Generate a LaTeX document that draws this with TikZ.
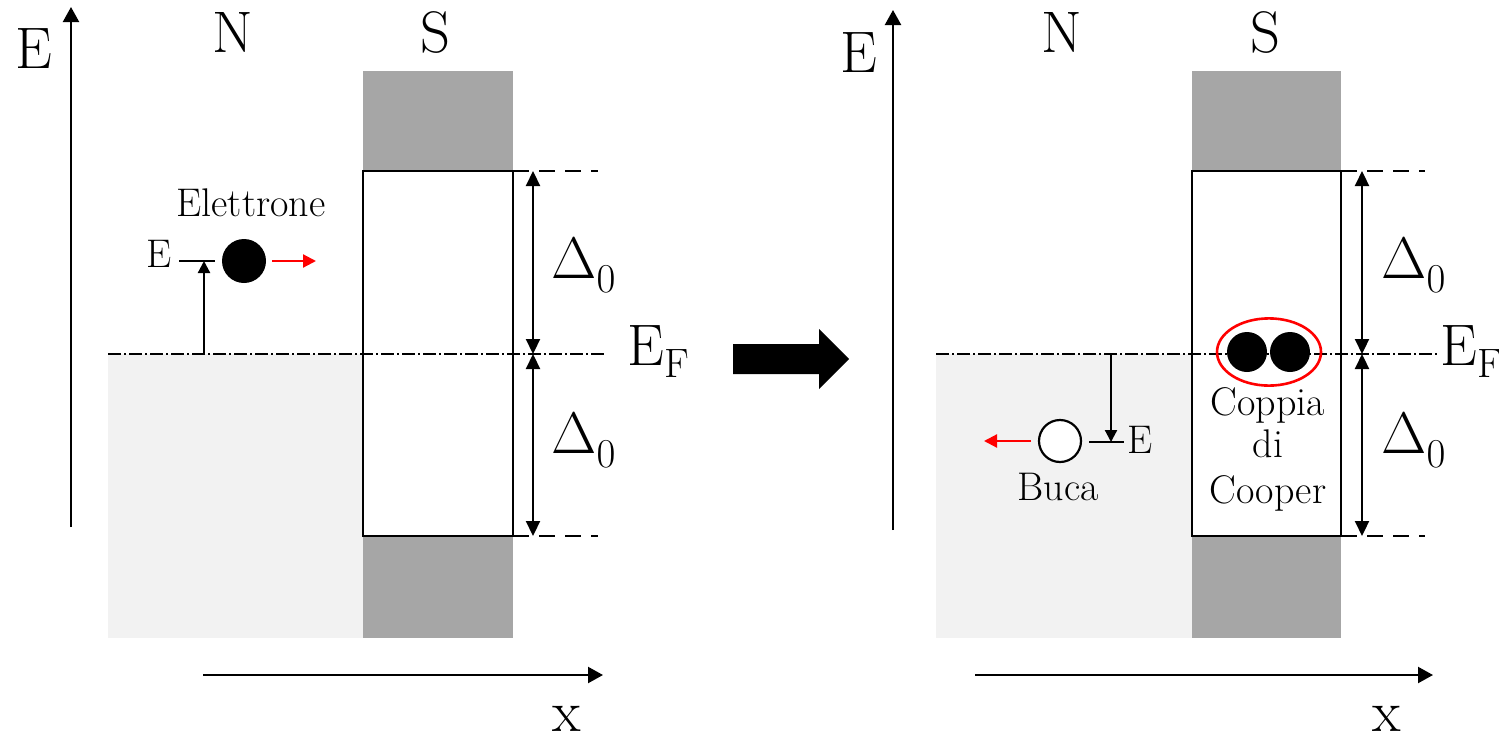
\documentclass[tikz,border=0pt]{standalone}
\usepackage{fix-cm}
\usepackage{fontspec}
\usetikzlibrary{arrows.meta}
\definecolor{lightfill}{HTML}{F2F2F2}
\definecolor{darkfill}{HTML}{A6A6A6}
\newcommand{\gapsym}{$\Delta_{\lower3pt\hbox{$\scriptstyle 0$}}$}
\newcommand{\fermisym}{$\mathrm{E}_{\lower2pt\hbox{$\scriptstyle\mathrm{F}$}}$}
\begin{document}
\begin{tikzpicture}[x=0.5pt,y=-0.5pt,
  big/.style={inner sep=0pt,font=\fontsize{29.3}{35}\selectfont},
  small/.style={inner sep=0pt,font=\fontsize{20}{24}\selectfont},
  axis/.style={line width=1.1pt,-{Triangle[length=7.5pt,width=8pt]}},
  gap/.style={line width=1.1pt,{Triangle[length=7.5pt,width=7pt]}-{Triangle[length=7.5pt,width=7pt]}},
  lvl/.style={line width=1.1pt,-{Triangle[length=6pt,width=6pt]}},
  move/.style={line width=1.1pt,red,-{Triangle[length=6.5pt,width=6.5pt]}},
  fermi/.style={line width=1.1pt,dash pattern=on 6.5pt off 1.5pt on 1pt off 1.5pt},
  edge/.style={line width=1.1pt,dash pattern=on 8pt off 5pt},
  box/.style={line width=1.4pt},
  particle/.style={circle,inner sep=0pt,minimum size=22pt,fill=black},
]
\useasboundingbox (0,0) rectangle (1499,744);

% ================= LEFT PANEL =================
\fill[lightfill] (108,354) rectangle (363,638);
\fill[darkfill] (363,71) rectangle (513,171);
\fill[darkfill] (363,536) rectangle (513,638);
\draw[box] (363,171) rectangle (513,536);

\coordinate (LT) at (513,171);
\coordinate (LTe) at (598,171);
\coordinate (LB) at (513,536);
\coordinate (LBe) at (598,536);
\draw[edge] (LT) -- (LTe);
\draw[edge] (LB) -- (LBe);

\coordinate (LFs) at (108,354);
\coordinate (LFe) at (607,354);
\draw[fermi] (LFs) -- (LFe);

\coordinate (LGt) at (533,171);
\coordinate (LGm) at (533,354);
\coordinate (LGb) at (533,536);
\draw[gap] (LGt) -- (LGm);
\draw[gap] (LGm) -- (LGb);
\node[big,anchor=base west] (LD1) at (551,278) {\gapsym};
\node[big,anchor=base west] (LD2) at (551,453) {\gapsym};
\node[big,anchor=base west] (LEF) at (627,365) {\fermisym};

\coordinate (LEa) at (71,527);
\coordinate (LEb) at (71,7);
\draw[axis] (LEa) -- (LEb);
\node[big,anchor=base] (LE) at (34,68) {E};
\node[big,anchor=base] (LN) at (233,53) {N};
\node[big,anchor=base] (LS) at (435,53) {S};
\coordinate (LXa) at (203,675);
\coordinate (LXb) at (603,675);
\draw[axis] (LXa) -- (LXb);
\node[big,anchor=base] (Lx) at (567,731) {x};

\node[small,anchor=base] (Lel) at (251,216) {Elettrone};
\node[small,anchor=base] (LEs) at (159,267) {E};
\coordinate (LBa) at (179,261);
\coordinate (LBb) at (215,261);
\draw[line width=1.1pt] (LBa) -- (LBb);
\coordinate (LUa) at (204,354);
\coordinate (LUb) at (204,261);
\draw[lvl] (LUa) -- (LUb);
\node[particle] (el) at (244,261) {};
\coordinate (LRa) at (272,261);
\coordinate (LRb) at (316,261);
\draw[move] (LRa) -- (LRb);

% ================= BIG ARROW =================
\fill[black] (733,344) -- (819,344) -- (819,329) -- (849,359) -- (819,389) -- (819,374) -- (733,374) -- cycle;

% ================= RIGHT PANEL =================
\fill[lightfill] (936,354) rectangle (1192,638);
\fill[darkfill] (1192,71) rectangle (1341,171);
\fill[darkfill] (1192,536) rectangle (1341,638);
\draw[box] (1192,171) rectangle (1341,536);

\coordinate (RT) at (1341,171);
\coordinate (RTe) at (1425,171);
\coordinate (RB) at (1341,536);
\coordinate (RBe) at (1425,536);
\draw[edge] (RT) -- (RTe);
\draw[edge] (RB) -- (RBe);

\coordinate (RFs) at (936,354);
\coordinate (RFe) at (1437,354);
\draw[fermi] (RFs) -- (RFe);

\coordinate (RGt) at (1362,171);
\coordinate (RGm) at (1362,354);
\coordinate (RGb) at (1362,536);
\draw[gap] (RGt) -- (RGm);
\draw[gap] (RGm) -- (RGb);
\node[big,anchor=base west] (RD1) at (1381,278) {\gapsym};
\node[big,anchor=base west] (RD2) at (1381,453) {\gapsym};
\node[big,anchor=base west] (REF) at (1440,365) {\fermisym};

\coordinate (REa) at (893,530);
\coordinate (REb) at (893,10);
\draw[axis] (REa) -- (REb);
\node[big,anchor=base] (RE) at (859,72) {E};
\node[big,anchor=base] (RN) at (1062,53) {N};
\node[big,anchor=base] (RS) at (1265,53) {S};
\coordinate (RXa) at (975,675);
\coordinate (RXb) at (1433,675);
\draw[axis] (RXa) -- (RXb);
\node[big,anchor=base] (Rx) at (1387,731) {x};

% hole
\coordinate (RDa) at (1111,354);
\coordinate (RDb) at (1111,442);
\draw[lvl] (RDa) -- (RDb);
\coordinate (RBa) at (1089,442);
\coordinate (RBb) at (1124,442);
\draw[line width=1.1pt] (RBa) -- (RBb);
\node[small,anchor=base west] (REs) at (1127,453) {E};
\node[circle,inner sep=0pt,minimum size=21pt,draw=black,line width=1.1pt,fill=white] (hole) at (1060,441) {};
\coordinate (RRa) at (1031,441);
\coordinate (RRb) at (984,441);
\draw[move] (RRa) -- (RRb);
\node[small,anchor=base] (buca) at (1058,500) {Buca};

% Cooper pair
\node[particle,minimum size=20pt] (c1) at (1247,352) {};
\node[particle,minimum size=20pt] (c2) at (1290,352) {};
\draw[red,line width=1.3pt] (1269,352) ellipse (26pt and 16.8pt);
\node[small,anchor=base] (cp1) at (1268,415) {Coppia};
\node[small,anchor=base] (cp2) at (1268,457) {di};
\node[small,anchor=base] (cp3) at (1268,503) {Cooper};
\end{tikzpicture}
\end{document}
